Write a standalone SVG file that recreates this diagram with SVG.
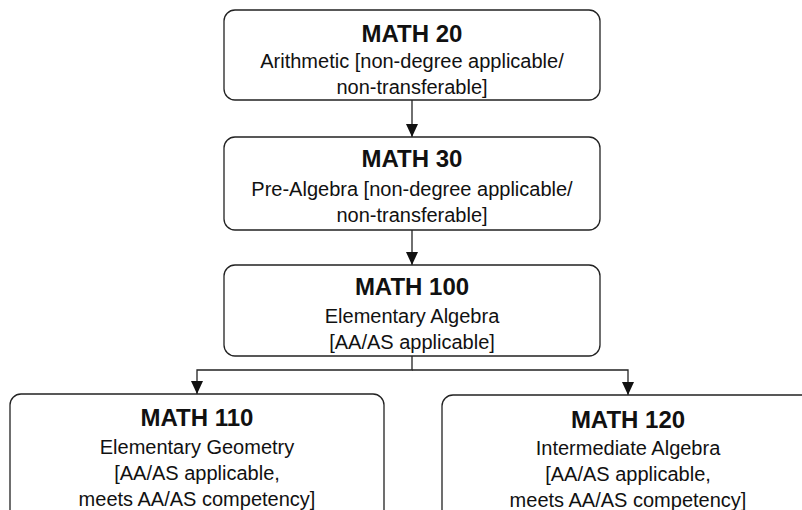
<svg xmlns="http://www.w3.org/2000/svg" width="802" height="510" viewBox="0 0 802 510">
  <defs>
    <style>
      .box { fill: #ffffff; stroke: #222222; stroke-width: 1.3; }
      .title { font-family: "Liberation Sans", Arial, sans-serif; font-weight: bold; font-size: 24px; fill: #111111; text-anchor: middle; }
      .body { font-family: "Liberation Sans", Arial, sans-serif; font-size: 20px; fill: #111111; text-anchor: middle; }
      .conn { fill: none; stroke: #222222; stroke-width: 1.3; }
    </style>
    <marker id="arrow" markerUnits="userSpaceOnUse" markerWidth="13" markerHeight="12" refX="13" refY="6" orient="auto" viewBox="0 0 13 12">
      <path d="M0,0 L13,6 L0,12 Z" fill="#111111"/>
    </marker>
  </defs>
  <rect width="802" height="510" fill="#ffffff"/>

  <g id="connectors">
    <line class="conn" x1="412" y1="100" x2="412" y2="137" marker-end="url(#arrow)"/>
    <line class="conn" x1="412" y1="230" x2="412" y2="265" marker-end="url(#arrow)"/>
    <polyline class="conn" points="412,356 412,370 197,370 197,394" marker-end="url(#arrow)"/>
    <polyline class="conn" points="412,370 628,370 628,395" marker-end="url(#arrow)"/>
  </g>

  <g id="math20">
    <rect class="box" x="224" y="10" width="376" height="90" rx="11" ry="11"/>
    <text class="title" x="412" y="42">MATH 20</text>
    <text class="body" x="412" y="68">Arithmetic [non-degree applicable/</text>
    <text class="body" x="412" y="94">non-transferable]</text>
  </g>

  <g id="math30">
    <rect class="box" x="224" y="137" width="376" height="93" rx="11" ry="11"/>
    <text class="title" x="412" y="167">MATH 30</text>
    <text class="body" x="412" y="196">Pre-Algebra [non-degree applicable/</text>
    <text class="body" x="412" y="222">non-transferable]</text>
  </g>

  <g id="math100">
    <rect class="box" x="224" y="265" width="376" height="91" rx="11" ry="11"/>
    <text class="title" x="412" y="295">MATH 100</text>
    <text class="body" x="412" y="323">Elementary Algebra</text>
    <text class="body" x="412" y="349">[AA/AS applicable]</text>
  </g>

  <g id="math110">
    <rect class="box" x="10" y="394" width="374" height="140" rx="11" ry="11"/>
    <text class="title" x="197" y="426">MATH 110</text>
    <text class="body" x="197" y="454">Elementary Geometry</text>
    <text class="body" x="197" y="480">[AA/AS applicable,</text>
    <text class="body" x="197" y="506">meets AA/AS competency]</text>
  </g>

  <g id="math120">
    <rect class="box" x="442" y="395" width="380" height="140" rx="11" ry="11"/>
    <text class="title" x="628" y="428">MATH 120</text>
    <text class="body" x="628" y="455">Intermediate Algebra</text>
    <text class="body" x="628" y="481">[AA/AS applicable,</text>
    <text class="body" x="628" y="507">meets AA/AS competency]</text>
  </g>
</svg>
